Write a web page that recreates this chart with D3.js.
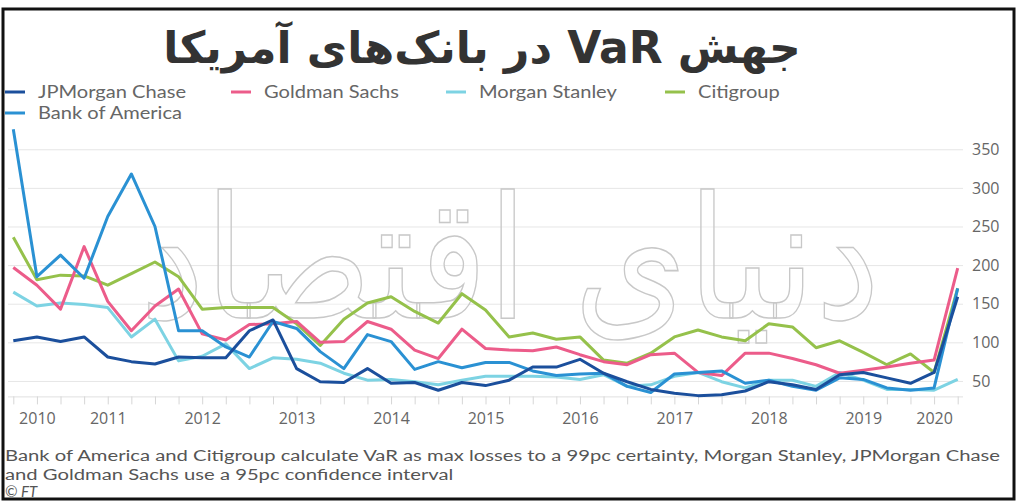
<!DOCTYPE html>
<html>
<head>
<meta charset="utf-8">
<script src="https://cdnjs.cloudflare.com/ajax/libs/d3/7.8.5/d3.min.js"></script>
<style>
  body { margin: 0; background: #fff; }
  text { font-family: "Open Sans", "DejaVu Sans", sans-serif; }
</style>
</head>
<body>
<svg id="chart" width="1019" height="504"></svg>
<script>
// quarterly points, index 0..40
var xLabelIdx = [1, 4, 8, 12, 16, 20, 24, 28, 32, 36, 39];
var xLabels = ['2010', '2011', '2012', '2013', '2014', '2015', '2016', '2017', '2018', '2019', '2020'];
var yTicks = [50, 100, 150, 200, 250, 300, 350];

var seriesNames = ['JPMorgan Chase', 'Goldman Sachs', 'Morgan Stanley', 'Citigroup', 'Bank of America'];
var seriesColors = ['#1b4f9c', '#ec5c8a', '#7dd3e3', '#95c14b', '#2a91d3'];

var jpm = [102, 107, 101, 107, 81, 75, 72, 81, 80, 80, 115, 129, 66, 49, 48, 66, 47, 48, 38, 48,
           44, 51, 68, 68, 78, 60, 49, 39, 34, 31, 32, 37, 49, 45, 39, 58, 61, 54, 47, 61, 159];
var goldman = [197, 174, 143, 224, 153, 115, 147, 169, 111, 103, 123, 124, 127, 100, 101, 127, 117, 90, 79, 117,
               92, 90, 89, 94, 84, 75, 71, 84, 86, 61, 57, 86, 86, 79, 71, 60, 64, 68, 73, 77, 196];
var morganStanley = [165, 147, 151, 149, 145, 107, 130, 76, 82, 98, 66, 80, 78, 73, 60, 51, 52, 49, 45, 51,
                     56, 56, 56, 55, 52, 58, 43, 45, 56, 61, 49, 41, 51, 51, 43, 61, 51, 39, 39, 38, 52];
var citi = [236, 181, 187, 186, 174, 189, 204, 185, 143, 145, 145, 145, 124, 96, 130, 151, 159, 140, 125, 163,
            142, 107, 112, 104, 107, 77, 73, 86, 107, 116, 107, 102, 124, 120, 93, 102, 87, 71, 85, 61, 170];
var bofa = [376, 185, 213, 183, 263, 318, 250, 115, 115, 94, 81, 127, 118, 88, 66, 110, 101, 65, 75, 67,
            74, 74, 63, 57, 59, 60, 43, 35, 59, 61, 63, 47, 51, 43, 38, 54, 52, 41, 38, 41, 170];

var seriesValues = [jpm, goldman, morganStanley, citi, bofa];
var drawOrder = [3, 2, 1, 4, 0];

var svg = d3.select('#chart');

var x = d3.scaleLinear().domain([0, 40]).range([13.3, 957.7]);
var y = d3.scaleLinear().domain([30, 380]).range([396.4, 126.1]);

// stretch texts sideways by factor k, keeping their height
function widen(sel, k) {
  sel.each(function() {
    var w = this.getComputedTextLength();
    d3.select(this).attr('textLength', w * k).attr('lengthAdjust', 'spacingAndGlyphs');
  });
}

// frame
svg.append('rect')
    .attr('x', 3).attr('y', 9).attr('width', 1011).attr('height', 490)
    .attr('fill', 'none').attr('stroke', '#111').attr('stroke-width', 3);

// title
svg.append('text')
    .attr('x', 482).attr('y', 63)
    .attr('text-anchor', 'middle')
    .attr('direction', 'rtl')
    .style('font-family', '"DejaVu Sans", sans-serif')
    .style('font-weight', 'bold')
    .style('font-size', '44px')
    .attr('fill', '#333')
    .text('جهش VaR در بانک‌های آمریکا');

// grid + y labels
var yAxis = svg.append('g')
    .attr('transform', 'translate(963,0)')
    .call(d3.axisRight(y).tickValues(yTicks).tickSize(-955).tickPadding(9));
yAxis.select('.domain').remove();
yAxis.selectAll('line').attr('stroke', '#e6e6e6');
yAxis.selectAll('text').attr('fill', '#666').style('font-size', '16px');

// x ticks
var xAxis = svg.append('g')
    .attr('transform', 'translate(0,' + y(30) + ')')
    .call(d3.axisBottom(x).tickValues(d3.range(41)).tickSize(8).tickSizeOuter(0).tickFormat(''));
xAxis.select('.domain').attr('stroke', '#e0e0e0').attr('d', 'M8,0.5H963');
xAxis.selectAll('line').attr('stroke', '#d6d6d6');

var xLab = svg.append('g')
    .attr('transform', 'translate(0,' + y(30) + ')')
    .call(d3.axisBottom(x).tickValues(xLabelIdx).tickSize(0).tickPadding(16)
      .tickFormat(function(d, i) { return xLabels[i]; }));
xLab.select('.domain').remove();
xLab.selectAll('text').attr('fill', '#666').style('font-size', '16px');

// watermark
var wm = svg.append('g').attr('transform', 'translate(510,318)');
var wmText = wm.append('text')
    .attr('text-anchor', 'middle')
    .attr('direction', 'rtl')
    .style('font-family', '"DejaVu Sans", sans-serif')
    .style('font-size', '170px')
    .attr('fill', '#fff').attr('fill-opacity', 0.35)
    .attr('stroke', '#c8c8c8').attr('stroke-width', 1.5)
    .text('دنیای اقتصاد');
var wmW = wmText.node().getComputedTextLength();
wm.attr('transform', 'translate(510,318) scale(' + (740 / wmW) + ',1)');

// lines
var line = d3.line()
    .x(function(d, i) { return x(i); })
    .y(function(d) { return y(d); });

svg.append('g').selectAll('path')
    .data(drawOrder)
  .enter().append('path')
    .attr('d', function(k) { return line(seriesValues[k]); })
    .attr('fill', 'none')
    .attr('stroke', function(k) { return seriesColors[k]; })
    .attr('stroke-width', 3)
    .attr('stroke-linejoin', 'round');

// legend
var legendX = [5, 231, 446, 665, 5];
var legendY = [92, 92, 92, 92, 113];
var legend = svg.append('g').selectAll('g')
    .data(seriesNames)
  .enter().append('g')
    .attr('transform', function(d, i) { return 'translate(' + legendX[i] + ',' + legendY[i] + ')'; });
legend.append('line')
    .attr('x1', 0).attr('x2', 20)
    .attr('stroke', function(d, i) { return seriesColors[i]; })
    .attr('stroke-width', 3);
var legendText = legend.append('text')
    .attr('x', 33).attr('dy', '0.35em')
    .attr('fill', '#666')
    .style('font-family', 'Lato, sans-serif')
    .style('font-size', '16.5px')
    .text(function(d) { return d; });
legendText.call(widen, 148 / legendText.node().getComputedTextLength());

// footnote
var notes = ['Bank of America and Citigroup calculate VaR as max losses to a 99pc certainty, Morgan Stanley, JPMorgan Chase',
             'and Goldman Sachs use a 95pc confidence interval'];
var noteText = svg.append('g').selectAll('text')
    .data(notes)
  .enter().append('text')
    .attr('x', 5).attr('y', function(d, i) { return 461 + i * 19; })
    .attr('fill', '#555')
    .style('font-family', 'Lato, sans-serif')
    .style('font-size', '15.5px')
    .text(function(d) { return d; });
noteText.call(widen, 995 / noteText.node().getComputedTextLength());
svg.append('text')
    .attr('x', 5).attr('y', 497)
    .attr('fill', '#555')
    .style('font-family', 'Lato, sans-serif')
    .style('font-size', '15px')
    .style('font-style', 'italic')
    .text('© FT');
</script>
</body>
</html>
